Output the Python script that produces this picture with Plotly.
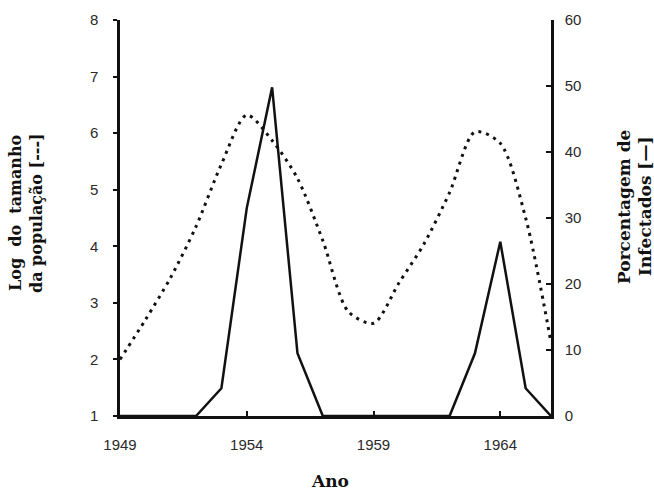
import plotly.graph_objects as go

# Data
years = list(range(1949, 1967))
log_pop = [2.0, 2.7, 3.45, 4.35, 5.45, 6.32, 5.87, 5.2, 4.1, 2.85, 2.64, 3.35,
           4.05, 4.95, 6.02, 5.82, 4.5, 2.3]
inf_years = [1949, 1952, 1953, 1954, 1955, 1956, 1957, 1962, 1963, 1964, 1965, 1966]
pct_infected = [0, 0, 4.2, 31.5, 49.8, 9.5, 0, 0, 9.5, 26.4, 4.2, 0]

x_ticks = [1949, 1954, 1959, 1964]
left_ticks = [1, 2, 3, 4, 5, 6, 7, 8]
right_ticks = [0, 10, 20, 30, 40, 50, 60]

fig = go.Figure()
fig.add_trace(go.Scatter(x=years, y=log_pop, mode="lines",
                         line=dict(color="#111111", width=3, dash="3px,5px", shape="spline", smoothing=0.8),
                         yaxis="y", showlegend=False))
fig.add_trace(go.Scatter(x=inf_years, y=pct_infected, mode="lines",
                         line=dict(color="#111111", width=2.5),
                         yaxis="y2", showlegend=False))

tick_font = dict(family="Liberation Sans", size=15, color="#2a2a2a")


def tfont(size):
    return dict(family="DejaVu Serif", size=size, color="#111111", weight="bold")


W, H = 654, 494
L, R, T, B = 120, 103, 20, 78
pw, ph = W - L - R, H - T - B


def px(fx):
    return (fx - L) / pw


def py(fy):
    return (H - B - fy) / ph


def title(text, fx, fy, size=16, angle=-90):
    return dict(text=text, xref="paper", yref="paper", x=px(fx), y=py(fy),
                xanchor="center", yanchor="middle", textangle=angle,
                showarrow=False, font=tfont(size))


fig.update_layout(
    width=W, height=H,
    margin=dict(l=L, r=R, t=T, b=B),
    paper_bgcolor="white", plot_bgcolor="white",
    xaxis=dict(range=[1949, 1966], tickvals=x_ticks, ticktext=[str(v) for v in x_ticks],
               showgrid=False, zeroline=False, showline=True, linecolor="#111111", linewidth=2.5,
               ticks="inside", ticklen=5, tickwidth=1.5, tickcolor="#111111",
               tickfont=tick_font, ticklabelstandoff=13),
    yaxis=dict(range=[1, 8], tickvals=left_ticks, showgrid=False, zeroline=False,
               showline=True, linecolor="#111111", linewidth=2.5,
               ticks="outside", ticklen=4, tickwidth=1.5, tickcolor="#111111",
               tickfont=tick_font, ticklabelstandoff=12),
    yaxis2=dict(range=[0, 60], tickvals=right_ticks, overlaying="y", side="right",
                showgrid=False, zeroline=False, showline=True, linecolor="#111111", linewidth=2.5,
                ticks="inside", ticklen=5, tickwidth=1.5, tickcolor="#111111",
                tickfont=tick_font, ticklabelstandoff=8),
    annotations=[
        title("Log  do  tamanho", 15, 213),
        title("da população [---]", 36, 213),
        title("Porcentagem de", 624, 207, size=17),
        title("Infectados [—]", 645, 207, size=17),
        title("Ano", 330, 481, size=17, angle=0),
    ],
)

fig.write_html("out.html", config={"displayModeBar": False},
               post_script="document.body.style.margin='0';document.body.style.overflow='hidden';")
